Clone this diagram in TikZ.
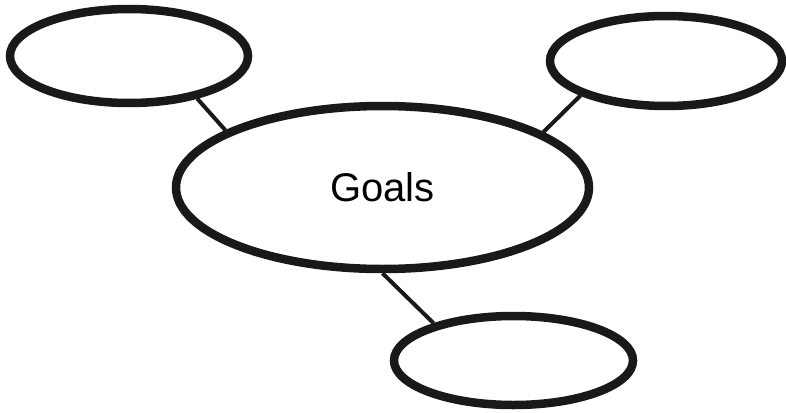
\documentclass[tikz,border=0pt]{standalone}
\usepackage{fontspec}
\setmainfont{Liberation Sans}
\usetikzlibrary{shapes.geometric}

\begin{document}
\begin{tikzpicture}[
  x=1pt, y=-1pt,
  bubble/.style={draw=black!90, ellipse, line width=8.5pt, inner sep=0pt},
  link/.style={draw=black!90, line width=4pt},
]
\useasboundingbox (0,0) rectangle (786,412);

\node[bubble, minimum width=413pt, minimum height=163pt,
      font=\fontsize{40}{46}\selectfont] (goals) at (382.5,187.5) {Goals};
\node[bubble, minimum width=238pt, minimum height=94pt] (topleft)  at (129,56) {};
\node[bubble, minimum width=232pt, minimum height=90pt] (topright) at (666,61) {};
\node[bubble, minimum width=239pt, minimum height=89pt] (bottom)   at (513.5,360.5) {};

\draw[link] (topleft.-32) -- (goals.160);
\draw[link] (topright.202) -- (goals.19);
\draw[link] (goals.270) -- (bottom.155);

\end{tikzpicture}
\end{document}
